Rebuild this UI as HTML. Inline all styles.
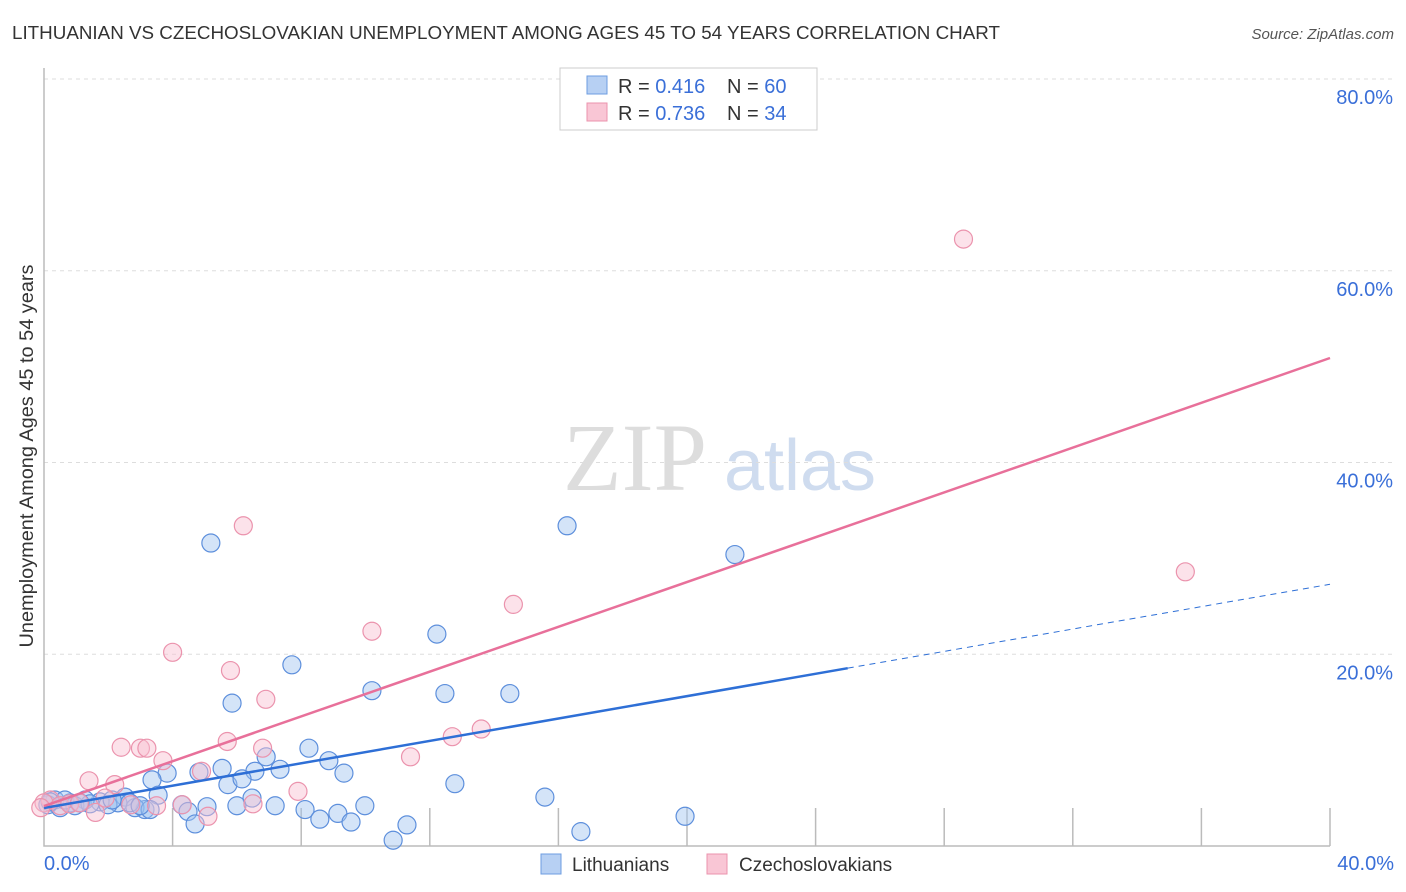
<!DOCTYPE html>
<html><head><meta charset="utf-8"><style>
body{margin:0;background:#fff;font-family:"Liberation Sans",sans-serif;}
svg{display:block}
</style></head><body>
<svg id="c" width="1406" height="892">
<text x="12" y="39" font-size="18" fill="#333" textLength="988" lengthAdjust="spacingAndGlyphs">LITHUANIAN VS CZECHOSLOVAKIAN UNEMPLOYMENT AMONG AGES 45 TO 54 YEARS CORRELATION CHART</text>
<text x="1394" y="39" font-size="15" fill="#555" font-style="italic" text-anchor="end">Source: ZipAtlas.com</text>
<text x="33" y="456" font-size="19" fill="#333" text-anchor="middle" textLength="383" lengthAdjust="spacingAndGlyphs" transform="rotate(-90 33 456)">Unemployment Among Ages 45 to 54 years</text>
<g><text x="635" y="490" font-size="96" fill="#ddd" font-family="Liberation Serif,serif" text-anchor="middle">ZIP</text><text x="800" y="490" font-size="72" fill="#cfdcef" text-anchor="middle">atlas</text></g>
<g id="grid"></g><g id="pts"></g><g id="lines"></g>
<g>
<rect x="560" y="68" width="257" height="62" fill="#fff" stroke="#ccc"/>
<rect x="587" y="76" width="20" height="18" fill="#b7d0f3" stroke="#6d9de0"/>
<rect x="587" y="103" width="20" height="18" fill="#f9c6d5" stroke="#eb93ad"/>
<text x="618" y="93" font-size="20" fill="#333">R = <tspan fill="#3a6fd8">0.416</tspan><tspan x="727">N = </tspan><tspan fill="#3a6fd8">60</tspan></text>
<text x="618" y="120" font-size="20" fill="#333">R = <tspan fill="#3a6fd8">0.736</tspan><tspan x="727">N = </tspan><tspan fill="#3a6fd8">34</tspan></text>
</g>
<g>
<rect x="541" y="854" width="20" height="20" fill="#b7d0f3" stroke="#6d9de0"/>
<text x="572" y="871" font-size="19" fill="#333">Lithuanians</text>
<rect x="707" y="854" width="20" height="20" fill="#f9c6d5" stroke="#eb93ad"/>
<text x="739" y="871" font-size="19" fill="#333">Czechoslovakians</text>
</g>
<text x="44" y="870" font-size="20" fill="#3a6fd8">0.0%</text>
<text x="1394" y="870" font-size="20" fill="#3a6fd8" text-anchor="end">40.0%</text>
</svg>
<script>
const yTicks=[20,40,60,80];
const blueX=[5.19,16.27,21.49,12.22,7.71,5.85,10.20,12.47,14.49,8.24,8.86,6.91,9.33,3.83,3.36,5.54,6.56,7.34,4.82,5.72,6.16,12.78,15.58,3.55,2.52,6.47,5.07,6.00,7.19,8.12,9.98,9.14,4.29,4.48,3.14,2.83,2.30,1.74,1.28,0.81,0.34,0.12,0.50,0.96,1.43,1.99,4.70,8.58,9.55,11.29,10.86,16.70,19.94,3.30,0.65,2.12,2.67,2.99,0.19,1.12];
const blueY=[31.6,33.4,30.4,22.1,18.9,14.9,16.2,15.9,15.9,10.2,8.9,9.3,7.6,7.6,6.9,8.1,7.8,8.0,7.7,6.4,7.0,6.5,5.1,5.3,5.1,5.0,4.1,4.2,4.2,3.8,4.2,3.4,4.3,3.6,3.8,4.0,4.5,4.6,4.8,4.5,4.8,4.3,4.0,4.2,4.4,4.3,2.3,2.8,2.5,2.2,0.6,1.5,3.1,3.8,4.8,4.8,4.5,4.2,4.6,4.5];
const pinkX=[28.6,6.2,35.5,14.6,10.2,4.0,5.8,6.9,13.6,12.7,2.4,3.0,3.2,5.7,6.8,11.4,3.7,4.9,1.4,2.2,7.9,4.3,6.5,3.5,5.1,1.6,0.2,0.0,0.5,0.8,1.1,2.7,1.9,-0.1];
const pinkY=[63.3,33.4,28.6,25.2,22.4,20.2,18.3,15.3,12.2,11.4,10.3,10.2,10.2,10.9,10.2,9.3,8.9,7.8,6.8,6.4,5.7,4.3,4.4,4.2,3.1,3.5,4.8,4.5,4.2,4.4,4.5,4.3,5.0,4.0];
const trendBlue=[3.96,27.3], trendPink=[4.17,50.9], blueSolidEnd=25.0;
const NS='http://www.w3.org/2000/svg';
const X=v=>44+v/40*1286, Y=v=>846-v/20*191.75;
function mk(t,a,p){const e=document.createElementNS(NS,t);for(const k in a)e.setAttribute(k,a[k]);p.appendChild(e);return e;}
const g=document.getElementById('grid');
yTicks.forEach(t=>{
 const l=mk('line',{x1:44,x2:1392,y1:Y(t),y2:Y(t),stroke:'#ddd','stroke-dasharray':'4,4'},g);
 
 
 const tx=mk('text',{x:1393,y:Y(t)+25,'font-size':20,fill:'#3a6fd8','text-anchor':'end'},g);
 tx.textContent=t.toFixed(1)+'%';
 
 
});
const ax=mk('path',{d:'M44 68V846H1330',fill:'none',stroke:'#bbb','stroke-width':1.5},g);


for(let i=1;i<=10;i++){const t=mk('line',{x1:X(i*4),x2:X(i*4),y1:808,y2:846,stroke:'#bbb','stroke-width':1.5},g);
 
 }
const P=document.getElementById('pts');
blueX.forEach((x,i)=>{const c=mk('circle',{cx:X(x),cy:Y(blueY[i]),r:9,fill:'rgba(160,195,240,0.45)',stroke:'#5d8fdc','stroke-width':1.2},P);
 
 });
pinkX.forEach((x,i)=>{const c=mk('circle',{cx:X(x),cy:Y(pinkY[i]),r:9,fill:'rgba(248,190,208,0.45)',stroke:'#eb93ad','stroke-width':1.2},P);
 
 });
const L=document.getElementById('lines');
const by=x=>trendBlue[0]+(trendBlue[1]-trendBlue[0])*x/40;
let l1=mk('line',{x1:X(0),y1:Y(by(0)),x2:X(blueSolidEnd),y2:Y(by(blueSolidEnd)),stroke:'#2e6fd6','stroke-width':2.5},L);


let l2=mk('line',{x1:X(blueSolidEnd),y1:Y(by(blueSolidEnd)),x2:X(40),y2:Y(by(40)),stroke:'#2e6fd6','stroke-width':1,'stroke-dasharray':'6,5'},L);


let l3=mk('line',{x1:X(0),y1:Y(trendPink[0]),x2:X(40),y2:Y(trendPink[1]),stroke:'#e8709a','stroke-width':2.5},L);


</script>
</body></html>
